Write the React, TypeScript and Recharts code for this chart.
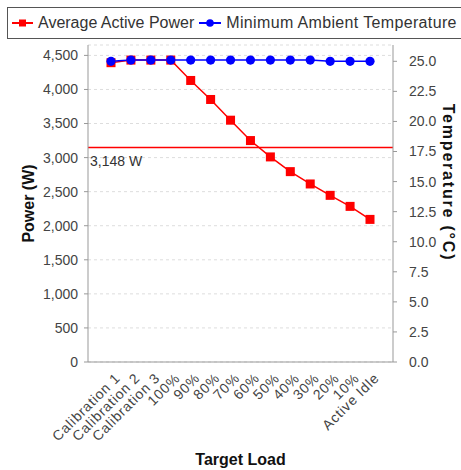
import React from 'react';
import {
  LineChart, Line, XAxis, YAxis, CartesianGrid, ReferenceLine, Label,
} from 'recharts';

const loads = [
  'Calibration 1', 'Calibration 2', 'Calibration 3',
  '100%', '90%', '80%', '70%', '60%', '50%', '40%', '30%', '20%', '10%',
  'Active Idle',
];
const avgPower = [4393, 4431, 4431, 4431, 4132, 3853, 3549, 3250, 3010, 2794, 2613, 2446, 2284, 2093];
const minTemp = [25.0, 25.1, 25.1, 25.1, 25.1, 25.1, 25.1, 25.1, 25.1, 25.1, 25.1, 25.0, 25.0, 25.0];
const powerTicks = [0, 500, 1000, 1500, 2000, 2500, 3000, 3500, 4000, 4500];
const tempTicks = [0, 2.5, 5, 7.5, 10, 12.5, 15, 17.5, 20, 22.5, 25];
const averagePower = 3148;

const data = loads.map((load, i) => ({ load, power: avgPower[i], temp: minTemp[i] }));

const FONT = '"Liberation Sans", Arial, Helvetica, sans-serif';
const AXIS_GRAY = '#999999';
const TICK_TEXT = '#444444';

const SquareDot = (props: any) => {
  const { cx, cy } = props;
  if (cx == null || cy == null) return null;
  return <rect x={cx - 4.5} y={cy - 4.5} width={9} height={9} fill="#ff0000" />;
};

const CircleDot = (props: any) => {
  const { cx, cy } = props;
  if (cx == null || cy == null) return null;
  return <circle cx={cx} cy={cy} r={4.6} fill="#0000ff" />;
};

// slanted category labels, anchored at their end just below the tick
const LoadTick = (props: any) => {
  const { x, y, payload } = props;
  const tx = x + 10;
  const ty = y + 9;
  return (
    <text
      x={tx}
      y={ty}
      transform={`rotate(-45, ${tx}, ${ty})`}
      textAnchor="end"
      fill={TICK_TEXT}
      fontSize={14}
      fontFamily={FONT}
      letterSpacing={0.8}
    >
      {payload.value}
    </text>
  );
};

// value text sitting just under the average rule
const AverageLabel = ({ viewBox }: any) => (
  <text x={viewBox.x + 2} y={viewBox.y + 18} fill="#333" fontSize={14} fontFamily={FONT}>
    {averagePower.toLocaleString('en-US')} W
  </text>
);

const titleStyle = { fontFamily: FONT, fontSize: 16, fontWeight: 700, fill: '#111' };

const LegendBox = () => (
  <div
    style={{
      position: 'absolute', left: 7, top: 7, width: 470, height: 30,
      border: '1px solid #555', background: '#fff', display: 'flex',
      alignItems: 'center', fontFamily: FONT, fontSize: 16, color: '#333',
      whiteSpace: 'nowrap',
    }}
  >
    <svg width={21} height={10} style={{ marginLeft: 4, marginRight: 5 }}>
      <line x1={0} y1={5} x2={21} y2={5} stroke="#ff0000" strokeWidth={2} />
      <rect x={7} y={1.5} width={7} height={7} fill="#ff0000" />
    </svg>
    <span>Average Active Power</span>
    <svg width={22} height={10} style={{ marginLeft: 5, marginRight: 5 }}>
      <line x1={0} y1={5} x2={22} y2={5} stroke="#0000ff" strokeWidth={2} />
      <circle cx={11} cy={5} r={3.8} fill="#0000ff" />
    </svg>
    <span style={{ letterSpacing: 0.35 }}>Minimum Ambient Temperature</span>
  </div>
);

export default function App() {
  return (
    <div style={{ position: 'absolute', left: 0, top: 0, width: 461, height: 470, overflow: 'hidden', background: '#fff' }}>
      <LineChart width={461} height={470} data={data} margin={{ top: 45, right: 0, bottom: 0, left: 0 }}>
        <CartesianGrid yAxisId="left" vertical={false} stroke="#dddddd" strokeDasharray="3 3" />
        <XAxis
          dataKey="load"
          interval={0}
          height={108}
          padding={{ left: 23, right: 23 }}
          tickLine={false}
          axisLine={{ stroke: AXIS_GRAY }}
          tick={<LoadTick />}
        >
          <Label
            content={({ viewBox }: any) => (
              <text x={viewBox.x + viewBox.width / 2} y={viewBox.y + 97} textAnchor="middle" dominantBaseline="central" style={titleStyle}>
                Target Load
              </text>
            )}
          />
        </XAxis>
        <XAxis xAxisId="top" orientation="top" height={0} tick={false} tickLine={false} axisLine={{ stroke: '#cccccc' }} />
        <YAxis
          yAxisId="left"
          width={88}
          domain={[0, (max: number) => max * 1.05]}
          ticks={powerTicks}
          tickSize={4}
          tickMargin={6}
          tickFormatter={(v: number) => v.toLocaleString('en-US')}
          axisLine={{ stroke: AXIS_GRAY }}
          tickLine={{ stroke: AXIS_GRAY }}
          tick={{ fontSize: 14, fill: TICK_TEXT, fontFamily: FONT }}
        >
          <Label
            content={({ viewBox }: any) => {
              const x = viewBox.x + 28;
              const y = viewBox.y + viewBox.height / 2;
              return (
                <text x={x} y={y} transform={`rotate(-90, ${x}, ${y})`} textAnchor="middle" dominantBaseline="central" style={titleStyle}>
                  Power (W)
                </text>
              );
            }}
          />
        </YAxis>
        <YAxis
          yAxisId="right"
          orientation="right"
          width={68}
          domain={[0, (max: number) => max * 1.05]}
          ticks={tempTicks}
          tickSize={4}
          tickMargin={12}
          tickFormatter={(v: number) => v.toFixed(1)}
          axisLine={{ stroke: AXIS_GRAY }}
          tickLine={{ stroke: AXIS_GRAY }}
          tick={{ fontSize: 14, fill: TICK_TEXT, fontFamily: FONT }}
        >
          <Label
            content={({ viewBox }: any) => {
              const x = viewBox.x + 55;
              const y = viewBox.y + viewBox.height / 2 - 21;
              return (
                <text x={x} y={y} transform={`rotate(90, ${x}, ${y})`} textAnchor="middle" dominantBaseline="central" style={{ ...titleStyle, letterSpacing: 1.8 }}>
                  Temperature  (°C)
                </text>
              );
            }}
          />
        </YAxis>
        <ReferenceLine yAxisId="left" y={averagePower} stroke="#ff0000" strokeWidth={1.6}>
          <Label content={AverageLabel} />
        </ReferenceLine>
        <Line
          yAxisId="left"
          dataKey="power"
          type="linear"
          stroke="#ff0000"
          strokeWidth={1.5}
          dot={<SquareDot />}
          activeDot={false}
          isAnimationActive={false}
        />
        <Line
          yAxisId="right"
          dataKey="temp"
          type="linear"
          stroke="#0000ff"
          strokeWidth={1.5}
          dot={<CircleDot />}
          activeDot={false}
          isAnimationActive={false}
        />
      </LineChart>
      <LegendBox />
    </div>
  );
}
